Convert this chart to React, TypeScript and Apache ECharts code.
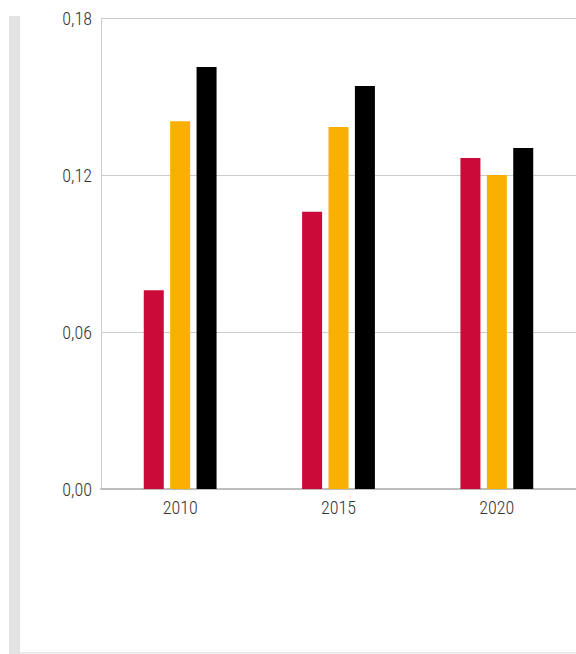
import React, { useEffect, useRef } from "react";
import * as echarts from "echarts";

const categories = ["2010", "2015", "2020"];
const seriesA = [0.076, 0.106, 0.1265];
const seriesB = [0.1405, 0.1383, 0.12];
const seriesC = [0.1613, 0.154, 0.1303];
const yTicks = [0, 0.06, 0.12, 0.18];

const FONT = '"Roboto Condensed", "Liberation Sans Narrow", "Open Sans", sans-serif';

export default function App() {
  const ref = useRef<HTMLDivElement>(null);
  useEffect(() => {
    if (!ref.current) return;
    const chart = echarts.init(ref.current, null, { renderer: "svg" });
    chart.setOption({
      animation: false,
      backgroundColor: "#ffffff",
      textStyle: { fontFamily: FONT },
      graphic: [
        { type: "rect", shape: { x: 9, y: 16, width: 11, height: 640 }, style: { fill: "#e3e3e3" }, silent: true },
        { type: "rect", shape: { x: 20, y: 652, width: 556, height: 1.5 }, style: { fill: "#e6e6e6" }, silent: true },
      ],
      grid: { left: 101, right: -3, top: 18, bottom: 165, containLabel: false },
      xAxis: {
        type: "category",
        data: categories,
        axisLine: { show: true, lineStyle: { color: "#bdbdbd", width: 2 } },
        axisTick: { show: false },
        axisLabel: { color: "#333333", fontSize: 18, fontWeight: 300, fontFamily: FONT, margin: 9 },
      },
      yAxis: {
        type: "value",
        min: yTicks[0],
        max: yTicks[yTicks.length - 1],
        interval: 0.06,
        axisLine: { show: true, lineStyle: { color: "#cccccc", width: 1 } },
        axisTick: { show: false },
        splitLine: { show: true, lineStyle: { color: "#cccccc", width: 1 } },
        axisLabel: {
          color: "#333333",
          fontSize: 18,
          fontWeight: 300,
          fontFamily: FONT,
          margin: 9,
          formatter: (v: number) => v.toFixed(2).replace(".", ","),
        },
      },
      series: [
        { type: "bar", data: seriesA, barWidth: 20, barGap: "32%", itemStyle: { color: "#cc0a3a" } },
        { type: "bar", data: seriesB, barWidth: 20, barGap: "32%", itemStyle: { color: "#f9b000" } },
        { type: "bar", data: seriesC, barWidth: 20, barGap: "32%", itemStyle: { color: "#000000" } },
      ],
    });
    return () => chart.dispose();
  }, []);
  return (
    <div
      ref={ref}
      style={{ position: "fixed", left: 0, top: 0, width: 576, height: 654 }}
    />
  );
}
